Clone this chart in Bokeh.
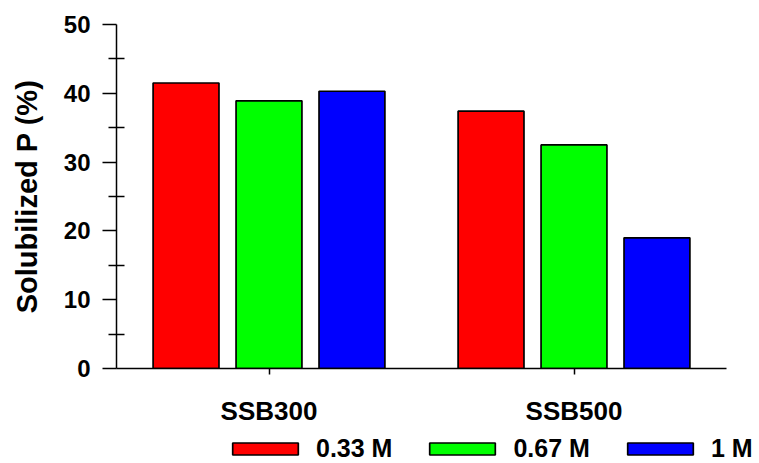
from bokeh.plotting import figure
from bokeh.models import ColumnDataSource, Legend, LegendItem, FixedTicker, Range1d
from bokeh.transform import dodge
from bokeh.embed import file_html
from bokeh.resources import INLINE

groups = ["SSB300", "SSB500"]
conc_labels = ["0.33 M", "0.67 M", "1 M"]
val_033 = [41.5, 37.4]
val_067 = [38.9, 32.5]
val_1 = [40.3, 19.0]
colors = ["#FF0000", "#00FF00", "#0000FF"]

src = ColumnDataSource(data=dict(g=groups, a=val_033, b=val_067, c=val_1))

FONT = "Liberation Sans"
bw = 0.216
off = 0.272

p = figure(x_range=groups, y_range=Range1d(0, 50), width=759, height=428,
           output_backend="svg", toolbar_location=None,
           min_border_left=116, min_border_right=33, min_border_top=24, min_border_bottom=58)
p.outline_line_color = None
p.xgrid.grid_line_color = None
p.ygrid.grid_line_color = None
p.x_range.range_padding = 0

for col, offset, color in zip(["a", "b", "c"], [-off, 0, off], colors):
    p.vbar(x=dodge("g", offset, range=p.x_range), top=col, width=bw, source=src,
           fill_color=color, line_color="black", line_width=1.7)

# y axis
p.yaxis.ticker = FixedTicker(ticks=[0, 10, 20, 30, 40, 50], minor_ticks=[5, 15, 25, 35, 45])
p.yaxis.axis_label = "Solubilized P (%)"
p.yaxis.axis_label_text_font = FONT
p.yaxis.axis_label_text_font_style = "bold"
p.yaxis.axis_label_text_font_size = "29px"
p.yaxis.axis_label_text_color = "black"
p.yaxis.axis_label_standoff = 18
p.yaxis.major_label_text_font = FONT
p.yaxis.major_label_text_font_style = "bold"
p.yaxis.major_label_text_font_size = "24px"
p.yaxis.major_label_text_color = "black"
p.yaxis.major_label_standoff = 12
p.yaxis.major_tick_out = 14
p.yaxis.major_tick_in = 0
p.yaxis.minor_tick_out = 8
p.yaxis.minor_tick_in = 8
for attr in ["axis_line", "major_tick_line", "minor_tick_line"]:
    setattr(p.yaxis, attr + "_width", 1.5)
    setattr(p.yaxis, attr + "_color", "black")

# x axis
p.xaxis.major_label_text_font = FONT
p.xaxis.major_label_text_font_style = "bold"
p.xaxis.major_label_text_font_size = "26px"
p.xaxis.major_label_text_color = "black"
p.xaxis.major_label_standoff = 21
p.xaxis.major_tick_out = 6
p.xaxis.major_tick_in = 0
p.xaxis.axis_line_width = 1.5
p.xaxis.major_tick_line_width = 1.5
p.xaxis.axis_line_color = "black"

# legend strip below the chart: its renderers are hidden, only the legend shows
lg = figure(x_range=groups, y_range=Range1d(0, 50), width=759, height=35,
            output_backend="svg", toolbar_location=None,
            min_border_left=0, min_border_right=0, min_border_top=0, min_border_bottom=0)
lg.axis.visible = False
lg.grid.visible = False
lg.outline_line_color = None
lg_renderers = []
for col, offset, color in zip(["a", "b", "c"], [-off, 0, off], colors):
    r = lg.vbar(x=dodge("g", offset, range=lg.x_range), top=col, width=bw, source=src,
                fill_color=color, line_color="black", line_width=1.7, visible=False)
    lg_renderers.append(r)

legend = Legend(items=[LegendItem(label=l, renderers=[r]) for l, r in zip(conc_labels, lg_renderers)],
                orientation="horizontal", location=(224, 0),
                label_text_font=FONT, label_text_font_style="bold", label_text_font_size="25px",
                label_text_color="black",
                glyph_width=82, glyph_height=15, label_standoff=10, spacing=29,
                padding=0, margin=0, border_line_color=None, background_fill_alpha=0,
                inactive_fill_alpha=0)
lg.add_layout(legend, "center")

open("out.html", "w").write(file_html([p, lg], INLINE))
